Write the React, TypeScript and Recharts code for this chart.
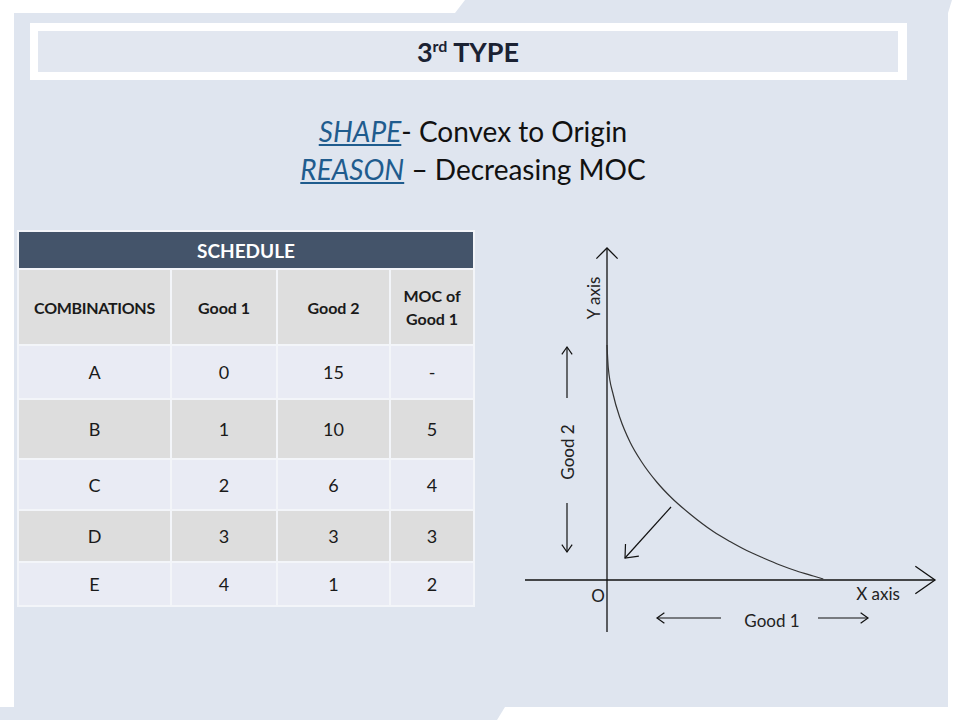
import React from 'react'
import { LineChart, Line, XAxis, YAxis, ReferenceLine, ReferenceDot } from 'recharts'

// schedule table
const COMBINATIONS = ['A', 'B', 'C', 'D', 'E']
const GOOD1 = [0, 1, 2, 3, 4]
const GOOD2 = [15, 10, 6, 3, 1]
const MOC = ['-', '5', '4', '3', '2']
const HEADERS = ['COMBINATIONS', 'Good 1', 'Good 2', 'MOC of Good 1']

// indifference curve (origin at 0,0)
const CURVE_X = [0, 0.13, 0.63, 1.3, 2.3, 3.47, 4.97, 6.47, 8.3, 10.63, 12.3, 13.97, 15.63, 17.3, 18.97, 20.63, 21.63]
const CURVE_Y = [23.5, 21.2, 18.5, 16.2, 13.8, 11.8, 9.8, 8.2, 6.6, 4.85, 3.85, 2.95, 2.2, 1.5, 0.9, 0.4, 0.1]

// annotation arrows: [x1, y1, x2, y2, head length, head half-angle]
const AXIS_ARROWS = [
  [-8.2, 0, 32.8, 0, 24, 35],
  [0, -5.2, 0, 33.2, 15, 45],
]
const SMALL_ARROWS = [
  [6.4, 7.3, 1.8, 2.2, 14, 40],
  [-4.0, 18.2, -4.0, 23.3, 9, 35],
  [-4.0, 7.7, -4.0, 2.8, 9, 35],
  [11.4, -3.8, 5.0, -3.8, 9, 35],
  [21.1, -3.8, 26.1, -3.8, 9, 35],
]
const LABEL_TEXT = ['Y axis', 'Good 2', 'O', 'X axis', 'Good 1']
const LABEL_X = [-1.4, -4.0, -0.9, 27.1, 16.5]
const LABEL_Y = [28.2, 12.8, -1.5, -1.3, -4.0]
const LABEL_ROT = [-90, -90, 0, 0, 0]

const curveData = CURVE_X.map((x, i) => ({ x, y: CURVE_Y[i] }))

const FONT = 'Lato, "Open Sans", sans-serif'
const PANEL = '#dfe5ef'

function arrowShape(len: number, angle: number, width: number) {
  return (p: any) => {
    const { x1, y1, x2, y2 } = p
    const a = Math.atan2(y1 - y2, x1 - x2)
    const r = (angle * Math.PI) / 180
    const ax = x2 + len * Math.cos(a + r)
    const ay = y2 + len * Math.sin(a + r)
    const bx = x2 + len * Math.cos(a - r)
    const by = y2 + len * Math.sin(a - r)
    return (
      <g>
        <line x1={x1} y1={y1} x2={x2} y2={y2} stroke="#111" strokeWidth={width} />
        <polyline
          points={`${ax},${ay} ${x2},${y2} ${bx},${by}`}
          fill="none"
          stroke="#111"
          strokeWidth={width}
        />
      </g>
    )
  }
}

function Sketch() {
  return (
    <LineChart width={430} height={400} data={curveData} margin={{ top: 0, right: 0, bottom: 0, left: 0 }}>
      <XAxis type="number" dataKey="x" domain={[-9.2, 33.8]} allowDataOverflow hide />
      <YAxis type="number" domain={[-6, 34]} allowDataOverflow hide />
      {AXIS_ARROWS.map((a, i) => (
        <ReferenceLine
          key={'ax' + i}
          segment={[{ x: a[0], y: a[1] }, { x: a[2], y: a[3] }]}
          shape={arrowShape(a[4], a[5], 1.3)}
        />
      ))}
      {SMALL_ARROWS.map((a, i) => (
        <ReferenceLine
          key={'sm' + i}
          segment={[{ x: a[0], y: a[1] }, { x: a[2], y: a[3] }]}
          shape={arrowShape(a[4], a[5], 1.2)}
        />
      ))}
      <Line
        type="monotone"
        dataKey="y"
        stroke="#333"
        strokeWidth={1.2}
        dot={false}
        isAnimationActive={false}
      />
      {LABEL_TEXT.map((t, i) => (
        <ReferenceDot
          key={'lb' + i}
          x={LABEL_X[i]}
          y={LABEL_Y[i]}
          r={0}
          shape={(p: any) => (
            <text
              x={p.cx}
              y={p.cy}
              transform={`rotate(${LABEL_ROT[i]} ${p.cx} ${p.cy})`}
              textAnchor="middle"
              dominantBaseline="central"
              fontFamily={FONT}
              fontSize={17}
              fill="#222"
            >
              {t}
            </text>
          )}
        />
      ))}
    </LineChart>
  )
}

const ROW_H = [52, 58, 49, 50, 42]
const COL_W = [153, 106, 113, 84]

function Schedule() {
  const cell = (bg: string, h: number, extra: React.CSSProperties = {}) => ({
    background: bg,
    height: h,
    border: '2px solid #f3f5f9',
    textAlign: 'center' as const,
    verticalAlign: 'middle' as const,
    padding: 0,
    color: '#1a1a1a',
    fontSize: 18,
    overflow: 'hidden',
    ...extra,
  })
  return (
    <table
      style={{
        position: 'absolute',
        left: 17,
        top: 230,
        width: 456,
        borderCollapse: 'collapse',
        fontFamily: FONT,
        tableLayout: 'fixed',
      }}
    >
      <colgroup>
        {COL_W.map((w, i) => (
          <col key={i} style={{ width: w }} />
        ))}
      </colgroup>
      <tbody>
        <tr>
          <td colSpan={4} style={cell('#44546a', 36, { color: '#fff', fontWeight: 700, fontSize: 19 })}>
            SCHEDULE
          </td>
        </tr>
        <tr>
          {HEADERS.map((h, i) => (
            <td
              key={h}
              style={cell('#dedede', 74, {
                fontWeight: 700,
                fontSize: 16,
                lineHeight: '23px',
                letterSpacing: i === 0 ? -0.3 : 0,
                padding: i === 3 ? '0 10px' : 0,
              })}
            >
              {h}
            </td>
          ))}
        </tr>
        {COMBINATIONS.map((c, r) => {
          const bg = r % 2 === 0 ? '#e9ebf4' : '#dddddd'
          const vals = [c, String(GOOD1[r]), String(GOOD2[r]), MOC[r]]
          return (
            <tr key={c}>
              {vals.map((v, i) => (
                <td key={i} style={cell(bg, ROW_H[r])}>
                  {v}
                </td>
              ))}
            </tr>
          )
        })}
      </tbody>
    </table>
  )
}

export default function App() {
  return (
    <div
      style={{
        position: 'absolute',
        left: 0,
        top: 0,
        width: 960,
        height: 720,
        overflow: 'hidden',
        background: '#fff',
        fontFamily: FONT,
      }}
    >
      <svg width={960} height={720} style={{ position: 'absolute', left: 0, top: 0 }}>
        <rect x={14} y={13} width={934} height={694} fill={PANEL} />
        <polygon points="455,13 465,0 952,0 948,13" fill={PANEL} />
        <polygon points="0,707 505,707 497,720 0,720" fill={PANEL} />
      </svg>
      <div
        style={{
          position: 'absolute',
          left: 30,
          top: 23,
          width: 877,
          height: 57,
          background: '#fff',
        }}
      />
      <div
        style={{
          position: 'absolute',
          left: 38,
          top: 31,
          width: 860,
          height: 41,
          background: '#e2e7f0',
          textAlign: 'center',
          lineHeight: '41px',
          fontWeight: 700,
          fontSize: 27,
          color: '#1b2233',
        }}
      >
        3<sup style={{ fontSize: 16, verticalAlign: 'top', lineHeight: '30px' }}>rd</sup> TYPE
      </div>
      <div
        style={{
          position: 'absolute',
          left: 0,
          width: 946,
          top: 112,
          textAlign: 'center',
          fontSize: 28,
          lineHeight: '38px',
          color: '#111',
        }}
      >
        <div>
          <span style={{ color: '#1f5c8e', fontStyle: 'italic', textDecoration: 'underline' }}>SHAPE</span>- Convex to Origin
        </div>
        <div>
          <span style={{ color: '#1f5c8e', fontStyle: 'italic', textDecoration: 'underline' }}>REASON</span> – Decreasing MOC
        </div>
      </div>
      <Schedule />
      <div style={{ position: 'absolute', left: 515, top: 240 }}>
        <Sketch />
      </div>
    </div>
  )
}
